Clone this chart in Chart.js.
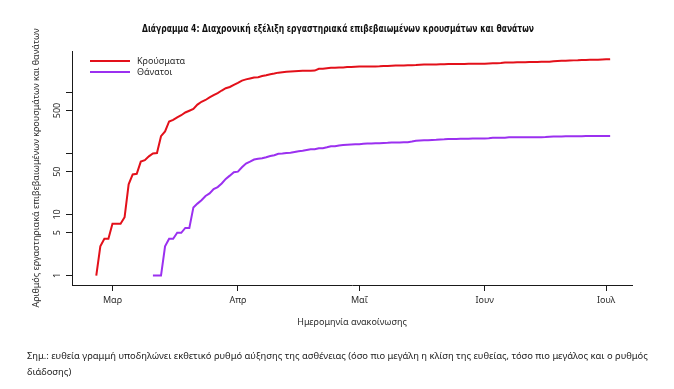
<!DOCTYPE html>
<html>
<head>
<meta charset="utf-8">
<script src="https://cdn.jsdelivr.net/npm/chart.js@4.4.1/dist/chart.umd.min.js"></script>
<style>
  html, body { margin: 0; padding: 0; background: #fff; }
  #wrap { position: relative; width: 674px; height: 389px; }
  #note {
    position: absolute; left: 27px; top: 348px;
    font: 9.4px 'Noto Sans', sans-serif; color: #222; line-height: 16px;
    white-space: nowrap;
  }
</style>
</head>
<body>
<div id="wrap">
  <canvas id="chart" width="674" height="389"></canvas>
  <div id="note">Σημ.: ευθεία γραμμή υποδηλώνει εκθετικό ρυθμό αύξησης της ασθένειας (όσο πιο μεγάλη η κλίση της ευθείας, τόσο πιο μεγάλος και ο ρυθμός<br>διάδοσης)</div>
</div>
<script>
// ─── Data ────────────────────────────────────────────────────
// cumulative counts, one value per announcement day
const CASES_START  = '2020-02-26';
const DEATHS_START = '2020-03-11';

const cases = [
  1, 3, 4, 4, 7, 7, 7, 9, 31, 45, 46, 73, 77, 89, 99, 101, 190, 228, 331, 352,
  387, 418, 464, 495, 530, 624, 695, 743, 821, 892, 966, 1061, 1156, 1212, 1314,
  1415, 1544, 1613, 1673, 1735, 1755, 1832, 1884, 1955, 2011, 2081, 2114, 2145,
  2170, 2192, 2207, 2224, 2235, 2235, 2245, 2401, 2408, 2463, 2490, 2506, 2517,
  2534, 2566, 2576, 2591, 2612, 2620, 2625, 2626, 2632, 2642, 2663, 2678, 2691,
  2710, 2716, 2726, 2744, 2760, 2770, 2810, 2819, 2834, 2836, 2840, 2850, 2853,
  2873, 2876, 2878, 2882, 2892, 2906, 2909, 2915, 2917, 2918, 2937, 2952, 2967,
  2980, 3049, 3058, 3060, 3068, 3083, 3088, 3102, 3108, 3112, 3121, 3134, 3148,
  3203, 3237, 3256, 3266, 3287, 3302, 3310, 3340, 3343, 3366, 3376, 3390, 3409,
  3432, 3458,
];

const deaths = [
  1, 1, 1, 3, 4, 4, 5, 5, 6, 6, 13, 15, 17, 20, 22, 26, 28, 32, 38, 43, 49, 50,
  59, 68, 73, 79, 81, 83, 86, 90, 93, 98, 99, 101, 102, 105, 108, 110, 113, 116,
  116, 121, 121, 125, 130, 130, 134, 136, 138, 139, 140, 140, 143, 144, 144, 146,
  146, 147, 148, 150, 150, 150, 151, 151, 155, 160, 162, 163, 163, 165, 166, 168,
  169, 171, 171, 171, 172, 173, 173, 175, 175, 175, 175, 176, 179, 179, 180, 180,
  182, 182, 182, 183, 183, 183, 183, 183, 183, 184, 186, 187, 188, 188, 189, 190,
  190, 190, 190, 191, 191, 191, 191, 192, 192, 192,
];

const monthStarts = ['2020-03-01', '2020-04-01', '2020-05-01', '2020-06-01', '2020-07-01'];
const monthLabels = ['Μαρ', 'Απρ', 'Μαΐ', 'Ιουν', 'Ιουλ'];

const yTicks      = [1, 5, 10, 50, 100, 500, 1000];
const yTickLabels = ['1', '5', '10', '50', '', '500', ''];

const seriesNames = ['Κρούσματα', 'Θάνατοι'];

const TITLE = 'Διάγραμμα 4: Διαχρονική εξέλιξη εργαστηριακά επιβεβαιωμένων κρουσμάτων και θανάτων';

// ─── Helpers ─────────────────────────────────────────────────
const DAY_MS = 86400000;
const ORIGIN = Date.UTC(2020, 2, 1);   // 1 March = day 0

function dayOf(iso) {
  return (Date.parse(iso + 'T00:00:00Z') - ORIGIN) / DAY_MS;
}

function toPoints(values, startIso) {
  const d0 = dayOf(startIso);
  return values.map((v, i) => ({ x: d0 + i, y: v }));
}

const TEXT  = '#2a2a2a';
const AXIS  = '#1a1a1a';
const FONT  = "'Noto Sans', sans-serif";
const COLORS = { cases: '#e3101a', deaths: '#9b30f0' };

// R-style extras: page title, rotated y labels, y title, legend in the corner
const rDecor = {
  id: 'rDecor',
  afterDraw(chart) {
    const { ctx, chartArea, scales } = chart;
    const y = scales.y;
    ctx.save();

    // page title, centred on the page and squeezed to the caption width
    ctx.fillStyle = '#111';
    ctx.textAlign = 'center';
    ctx.textBaseline = 'middle';
    ctx.font = "bold 10.5px 'Liberation Sans Narrow', 'DejaVu Sans Condensed', sans-serif";
    const tw = ctx.measureText(TITLE).width;
    const sx = Math.min(1, 392 / tw);
    ctx.save();
    ctx.translate(338, 29);
    ctx.scale(sx, 1);
    ctx.fillText(TITLE, 0, 0);
    ctx.restore();

    ctx.fillStyle = TEXT;
    // tick labels, parallel to the axis
    ctx.font = '9px ' + FONT;
    yTicks.forEach((v, i) => {
      if (!yTickLabels[i]) return;
      const py = y.getPixelForValue(v);
      ctx.save();
      ctx.translate(chartArea.left - 15, py);
      ctx.rotate(-Math.PI / 2);
      ctx.fillText(yTickLabels[i], 0, 0);
      ctx.restore();
    });

    // axis title
    ctx.save();
    ctx.translate(chartArea.left - 36, (chartArea.top + chartArea.bottom) / 2);
    ctx.rotate(-Math.PI / 2);
    ctx.fillText('Αριθμός εργαστηριακά επιβεβαιωμένων κρουσμάτων και θανάτων', 0, 0);
    ctx.restore();

    // legend
    const lx = chartArea.left + 18;
    const ly = chartArea.top + 10;
    chart.data.datasets.forEach((ds, i) => {
      const yy = ly + i * 11;
      ctx.strokeStyle = ds.borderColor;
      ctx.lineWidth = 2;
      ctx.beginPath();
      ctx.moveTo(lx, yy);
      ctx.lineTo(lx + 40, yy);
      ctx.stroke();
      ctx.textAlign = 'left';
      ctx.fillText(ds.label, lx + 47, yy);
    });
    ctx.restore();
  },
};

new Chart(document.getElementById('chart'), {
  type: 'line',
  data: {
    datasets: [
      {
        label:       seriesNames[0],
        data:        toPoints(cases, CASES_START),
        borderColor: COLORS.cases,
        borderWidth: 2,
        pointRadius: 0,
        tension:     0,
      },
      {
        label:       seriesNames[1],
        data:        toPoints(deaths, DEATHS_START),
        borderColor: COLORS.deaths,
        borderWidth: 2,
        pointRadius: 0,
        tension:     0,
      },
    ],
  },
  options: {
    responsive: false,
    animation:  false,
    devicePixelRatio: 1,
    layout: { padding: { left: 66, right: 42, top: 51, bottom: 61.6 } },
    plugins: {
      legend:  { display: false },
      tooltip: { enabled: false },
      title:   { display: false },
    },
    scales: {
      x: {
        type: 'linear',
        min: -10,
        max: 128.4,
        afterBuildTicks: s => { s.ticks = monthStarts.map(d => ({ value: dayOf(d) })); },
        afterFit: s => { s.height = 42.4; },   // pin the plot bottom at y = 285
        ticks: {
          autoSkip: false, maxRotation: 0, padding: 4,
          color: TEXT, font: { family: FONT, size: 9 },
          callback: (v, i) => monthLabels[i],
        },
        grid:   { drawOnChartArea: false, drawTicks: true, tickLength: 6, color: AXIS },
        border: { display: true, color: AXIS, width: 1 },
        title: {
          display: true, text: 'Ημερομηνία ανακοίνωσης', color: TEXT,
          font: { family: FONT, size: 9 }, padding: { top: 0, bottom: 0 },
        },
      },
      y: {
        type: 'logarithmic',
        min: 0.72,
        max: 4700,
        afterBuildTicks: s => { s.ticks = yTicks.map(v => ({ value: v })); },
        afterFit: s => { s.width = 6; },
        ticks:  { display: false },
        grid:   { drawOnChartArea: false, drawTicks: true, tickLength: 6, color: AXIS },
        border: { display: true, color: AXIS, width: 1 },
      },
    },
  },
  plugins: [rDecor],
});
</script>
</body>
</html>
